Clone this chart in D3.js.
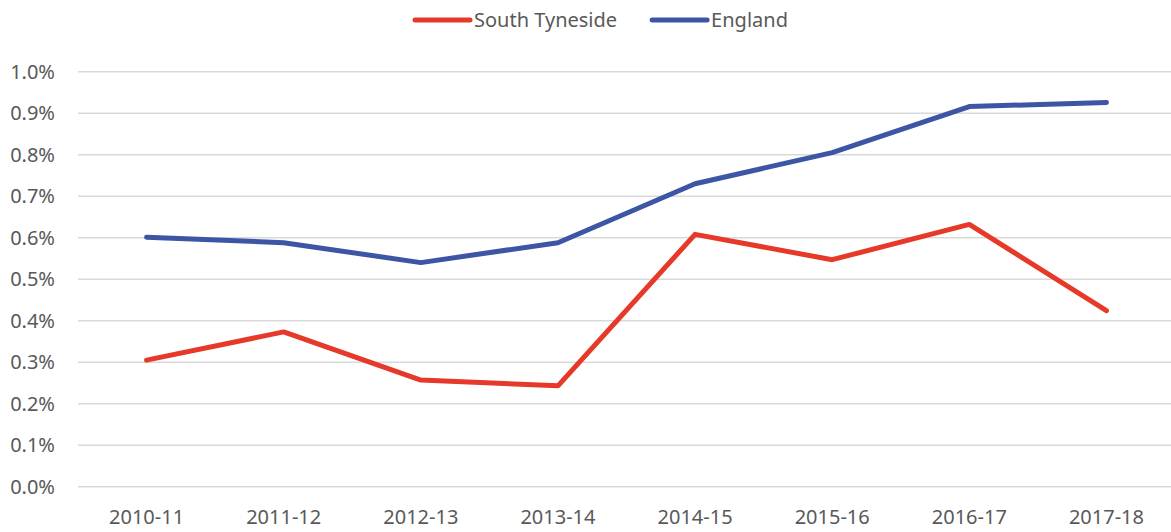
<!DOCTYPE html>
<html>
<head>
<meta charset="utf-8">
<script src="https://cdn.jsdelivr.net/npm/d3@7"></script>
<style>
  body { margin: 0; background: #fff; }
  svg text { font-family: "Noto Sans", "Open Sans", sans-serif; fill: #595959; }
</style>
</head>
<body>
<svg id="chart" width="1171" height="532"></svg>
<script>
var years = ['2010-11', '2011-12', '2012-13', '2013-14', '2014-15', '2015-16', '2016-17', '2017-18'];
var southTyneside = [0.305, 0.373, 0.257, 0.243, 0.608, 0.547, 0.632, 0.424];
var england = [0.601, 0.588, 0.540, 0.588, 0.730, 0.805, 0.916, 0.926];
var yTicks = [0, 0.1, 0.2, 0.3, 0.4, 0.5, 0.6, 0.7, 0.8, 0.9, 1.0];

var series = [
  {name: 'South Tyneside', values: southTyneside, color: '#E6392A'},
  {name: 'England', values: england, color: '#3C55A5'}
];

var svg = d3.select('#chart');
var plotLeft = 78, plotRight = 1175, plotTop = 71.7, plotBottom = 486.7;

var x = d3.scaleBand().domain(years).range([plotLeft, plotRight]);
var y = d3.scaleLinear().domain([0, 1.0]).range([plotBottom, plotTop]);

// gridlines
svg.append('g')
  .selectAll('line')
  .data(yTicks)
  .enter().append('line')
  .attr('x1', plotLeft)
  .attr('x2', plotRight)
  .attr('y1', function(d) { return y(d); })
  .attr('y2', function(d) { return y(d); })
  .style('stroke', '#d9d9d9')
  .style('stroke-width', 1.5);

// y labels
var yAxis = d3.axisLeft(y).tickValues(yTicks)
  .tickFormat(function(d) { return d.toFixed(1) + '%'; })
  .tickSize(0).tickPadding(23);
var yg = svg.append('g').attr('transform', 'translate(' + plotLeft + ',0)').call(yAxis);
yg.select('.domain').remove();
yg.selectAll('text').style('font-size', '20px').attr('fill', '#595959');

// x labels
var xAxis = d3.axisBottom(x).tickSize(0).tickPadding(23);
var xg = svg.append('g').attr('transform', 'translate(0,' + plotBottom + ')').call(xAxis);
xg.select('.domain').remove();
xg.selectAll('text').style('font-size', '20px').attr('fill', '#595959');

var line = d3.line()
  .x(function(d, i) { return x(years[i]) + x.bandwidth() / 2; })
  .y(function(d) { return y(d); });

svg.append('g')
  .selectAll('path')
  .data(series)
  .enter().append('path')
  .attr('d', function(d) { return line(d.values); })
  .style('fill', 'none')
  .style('stroke', function(d) { return d.color; })
  .style('stroke-width', 5)
  .style('stroke-linecap', 'round')
  .style('stroke-linejoin', 'round');

// legend
var legend = svg.append('g').attr('transform', 'translate(0,20)');
var lx = 415;
series.forEach(function(s) {
  legend.append('line')
    .attr('x1', lx).attr('x2', lx + 55)
    .attr('y1', 0).attr('y2', 0)
    .style('stroke', s.color)
    .style('stroke-width', 5)
    .style('stroke-linecap', 'round');
  var t = legend.append('text')
    .attr('x', lx + 59)
    .attr('dy', '0.35em')
    .style('font-size', '20px')
    .text(s.name);
  lx += 59 + t.node().getComputedTextLength() + 35;
});
</script>
</body>
</html>
